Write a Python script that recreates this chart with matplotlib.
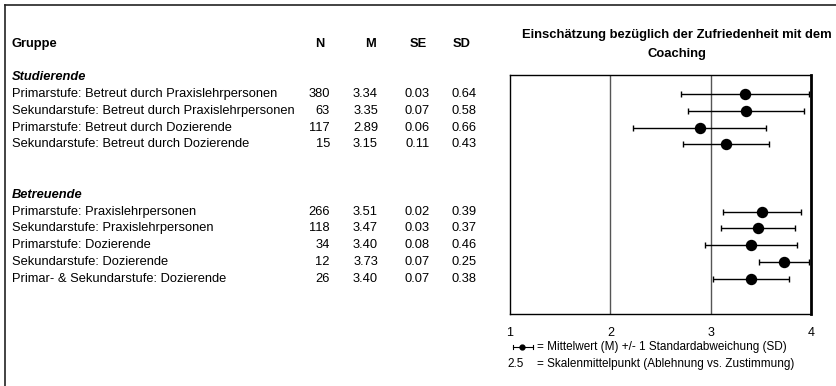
import matplotlib
matplotlib.use("Agg")
import matplotlib.pyplot as plt
import matplotlib.transforms as mtransforms
import matplotlib.lines as mlines

plt.rcParams['font.family'] = ['Liberation Sans', 'DejaVu Sans']

# Gruppen und Kennwerte
studierende = [
    'Primarstufe: Betreut durch Praxislehrpersonen',
    'Sekundarstufe: Betreut durch Praxislehrpersonen',
    'Primarstufe: Betreut durch Dozierende',
    'Sekundarstufe: Betreut durch Dozierende',
]
betreuende = [
    'Primarstufe: Praxislehrpersonen',
    'Sekundarstufe: Praxislehrpersonen',
    'Primarstufe: Dozierende',
    'Sekundarstufe: Dozierende',
    'Primar- & Sekundarstufe: Dozierende',
]
gruppen = studierende + betreuende
n_werte = [380, 63, 117, 15, 266, 118, 34, 12, 26]
m_werte = [3.34, 3.35, 2.89, 3.15, 3.51, 3.47, 3.40, 3.73, 3.40]
se_werte = [0.03, 0.07, 0.06, 0.11, 0.02, 0.03, 0.08, 0.07, 0.07]
sd_werte = [0.64, 0.58, 0.66, 0.43, 0.39, 0.37, 0.46, 0.25, 0.38]

# Zeilen: 0 = "Studierende", 1-4, Leerzeilen, 7 = "Betreuende", 8-12
zeilen = [1, 2, 3, 4, 8, 9, 10, 11, 12]

W, H = 837, 386
fig = plt.figure(figsize=(W / 100, H / 100), dpi=100)

def fx(px):
    return px / W

ax = fig.add_axes([fx(510), 1 - 314 / H, fx(811 - 510), (314 - 75) / H])
ax.set_xlim(1, 4)
ax.set_ylim(14.08, -0.12)

for x in (2, 3):
    ax.axvline(x, color='#555555', lw=1.0, zorder=1)

ax.errorbar(m_werte, zeilen, xerr=sd_werte, fmt='o', color='black',
            ms=7.2, elinewidth=1.0, capsize=2.2, capthick=1.0, zorder=3)

for side in ('left', 'top', 'bottom'):
    ax.spines[side].set_linewidth(1.0)
ax.spines['right'].set_linewidth(2.0)
ax.set_yticks([])
ax.set_xticks([1, 2, 3, 4])
ax.tick_params(axis='x', length=0, pad=9, labelsize=9)

# Tabelle links, gleiche Zeilen wie im Diagramm
trans = mtransforms.blended_transform_factory(fig.transFigure, ax.transData)
fs = 9.3
fig.text(fx(12), 1 - 44 / H, 'Gruppe', fontsize=fs, weight='bold', va='center')
for px, head in ((320, 'N'), (371, 'M'), (418, 'SE'), (462, 'SD')):
    fig.text(fx(px), 1 - 44 / H, head, fontsize=fs, weight='bold',
             va='center', ha='center')

fig.text(fx(12), 0, 'Studierende', transform=trans, fontsize=fs,
         weight='bold', style='italic', va='center')
fig.text(fx(12), 7, 'Betreuende', transform=trans, fontsize=fs,
         weight='bold', style='italic', va='center')

for y, g, n, m, se, sd in zip(zeilen, gruppen, n_werte, m_werte, se_werte, sd_werte):
    fig.text(fx(12), y, g, transform=trans, fontsize=fs, va='center')
    fig.text(fx(330), y, f'{n}', transform=trans, fontsize=fs, va='center', ha='right')
    fig.text(fx(378), y, f'{m:.2f}', transform=trans, fontsize=fs, va='center', ha='right')
    fig.text(fx(430), y, f'{se:.2f}', transform=trans, fontsize=fs, va='center', ha='right')
    fig.text(fx(477), y, f'{sd:.2f}', transform=trans, fontsize=fs, va='center', ha='right')

# Titel
fig.text(fx(677), 1 - 44.5 / H, 'Einschätzung bezüglich der Zufriedenheit mit dem\nCoaching',
         fontsize=9.4, weight='bold', ha='center', va='center', linespacing=1.75)

# Legende unter dem Diagramm
ly = 1 - 347 / H
fig.add_artist(mlines.Line2D([fx(513), fx(533)], [ly, ly], color='black', lw=0.8))
fig.add_artist(mlines.Line2D([fx(513), fx(513)], [ly - 0.006, ly + 0.006], color='black', lw=0.8))
fig.add_artist(mlines.Line2D([fx(533), fx(533)], [ly - 0.006, ly + 0.006], color='black', lw=0.8))
fig.add_artist(mlines.Line2D([fx(522)], [ly], marker='o', ms=3.5, color='black'))
fig.text(fx(537), ly, '= Mittelwert (M) +/- 1 Standardabweichung (SD)',
         fontsize=8.5, va='center')
fig.text(fx(507), 1 - 364 / H, '2.5', fontsize=8.5, va='center')
fig.text(fx(537), 1 - 364 / H, '= Skalenmittelpunkt (Ablehnung vs. Zustimmung)',
         fontsize=8.5, va='center')

# Rahmen oben und links
fig.add_artist(mlines.Line2D([fx(5), 1], [1 - 5 / H, 1 - 5 / H], color='#222222', lw=1.2))
fig.add_artist(mlines.Line2D([fx(5), fx(5)], [0, 1 - 5 / H], color='#222222', lw=1.2))

fig.savefig('out.png', dpi=100)
